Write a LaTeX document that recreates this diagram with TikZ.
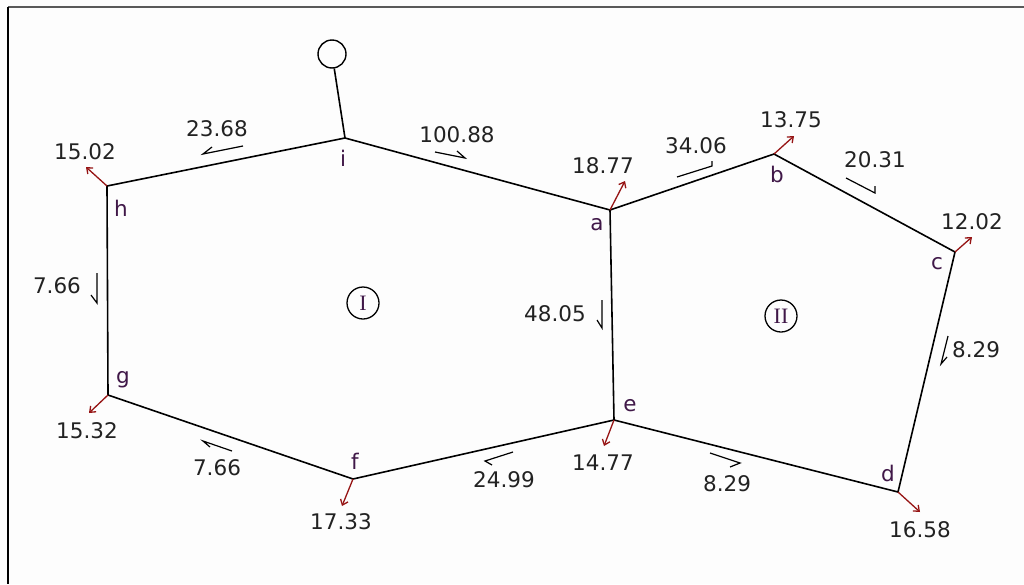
\documentclass[tikz,border=0pt]{standalone}
\usepackage{fontspec}
\setmainfont{DejaVu Sans}
\newfontfamily\romfont{Liberation Serif}
\usetikzlibrary{arrows.meta}
\definecolor{txt}{RGB}{34,34,34}
\definecolor{lettc}{RGB}{64,24,72}
\definecolor{redarr}{RGB}{150,20,20}
\definecolor{bgc}{RGB}{253,253,253}
\tikzset{
  edge/.style={draw=black,line width=1.6pt},
  flow/.style={draw=black,line width=1.2pt,line join=miter},
  rarrow/.style={draw=redarr,line width=1.3pt,-{Straight Barb[length=5pt,width=8pt]}},
  num/.style={text=txt,font=\fontsize{21.5}{23}\selectfont,inner sep=0pt},
  lett/.style={text=lettc,font=\fontsize{21.5}{23}\selectfont,inner sep=0pt},
  ringlab/.style={draw=black,circle,line width=1.3pt,minimum size=32pt,inner sep=0pt,text=lettc,font=\romfont\fontsize{22}{23}\selectfont}
}
\begin{document}
\begin{tikzpicture}[x=1pt,y=-1pt]
\useasboundingbox (0,0) rectangle (1024,584);
\fill[bgc] (0,0) rectangle (1024,584);
\draw[gray!70!black,line width=1.5pt] (8,7) -- (1024,7);
\draw[black,line width=1.5pt] (8,7) -- (8,584);

% vertices
\coordinate (i) at (345,138);
\coordinate (h) at (107,186);
\coordinate (a) at (610,210);
\coordinate (b) at (774,154);
\coordinate (c) at (955,252);
\coordinate (d) at (898,492);
\coordinate (e) at (614,420);
\coordinate (f) at (353,479);
\coordinate (g) at (108,395);
\node[draw=black,circle,line width=1.4pt,minimum size=28pt,inner sep=0pt] (top) at (332,54) {};

% edges
\draw[edge] (top) -- (i);
\draw[edge] (h) -- (i) -- (a) -- (b) -- (c) -- (d) -- (e) -- (f) -- (g) -- cycle;
\draw[edge] (a) -- (e);

% ring labels
\node[ringlab] (r1) at (363,303) {I};
\node[ringlab] (r2) at (781,316) {II};

% vertex letters
\node[lett] (li) at (343,158) {i};
\node[lett] (lh) at (121,208) {h};
\node[lett] (la) at (597,225) {a};
\node[lett] (lb) at (777,174) {b};
\node[lett] (lc) at (937,264) {c};
\node[lett] (ld) at (888,473) {d};
\node[lett] (le) at (630,406) {e};
\node[lett] (lf) at (355,461) {f};
\node[lett] (lg) at (123,380) {g};

% red arrows
\coordinate (hr) at (86,167);
\coordinate (ar) at (625,181);
\coordinate (br) at (794,136);
\coordinate (cr) at (972,237);
\coordinate (dr) at (920,512);
\coordinate (er) at (604,446);
\coordinate (fr) at (342,506);
\coordinate (gr) at (89,413);
\foreach \v in {h,a,b,c,d,e,f,g} {\draw[rarrow] (\v) -- (\v r);}

% red-arrow values
\node[num] (vh) at (85,152) {15.02};
\node[num] (va) at (603,166) {18.77};
\node[num] (vb) at (791,120) {13.75};
\node[num] (vc) at (972,222) {12.02};
\node[num] (vd) at (920,530) {16.58};
\node[num] (ve) at (603,463) {14.77};
\node[num] (vf) at (341,522) {17.33};
\node[num] (vg) at (87,431) {15.32};

% edge values
\node[num] (hi) at (217,129) {23.68};
\node[num] (ia) at (457,135) {100.88};
\node[num] (ab) at (696,146) {34.06};
\node[num] (bc) at (875,160) {20.31};
\node[num] (hg) at (57,286) {7.66};
\node[num] (ae) at (555,314) {48.05};
\node[num] (cd) at (976,350) {8.29};
\node[num] (gf) at (217,468) {7.66};
\node[num] (fe) at (504,480) {24.99};
\node[num] (ed) at (727,484) {8.29};

% flow harpoons
\coordinate (p1s) at (243,146); \coordinate (p1e) at (203,154); \coordinate (p1b) at (212,147);
\coordinate (p2s) at (435,152); \coordinate (p2e) at (465,158); \coordinate (p2b) at (457,151);
\coordinate (p3s) at (677,177); \coordinate (p3e) at (712,166); \coordinate (p3b) at (712,161);
\coordinate (p4s) at (846,178); \coordinate (p4e) at (875,193); \coordinate (p4b) at (875,186);
\coordinate (p5s) at (97,273);  \coordinate (p5e) at (97,303);  \coordinate (p5b) at (91,295);
\coordinate (p6s) at (602,300); \coordinate (p6e) at (602,328); \coordinate (p6b) at (597,320);
\coordinate (p7s) at (948,336); \coordinate (p7e) at (941,364); \coordinate (p7b) at (947,357);
\coordinate (p8s) at (232,451); \coordinate (p8e) at (203,441); \coordinate (p8b) at (210,447);
\coordinate (p9s) at (513,452); \coordinate (p9e) at (485,461); \coordinate (p9b) at (492,465);
\coordinate (p10s) at (710,453); \coordinate (p10e) at (740,463); \coordinate (p10b) at (730,467);
\foreach \k in {1,...,10} {\draw[flow] (p\k s) -- (p\k e) -- (p\k b);}
\end{tikzpicture}
\end{document}
